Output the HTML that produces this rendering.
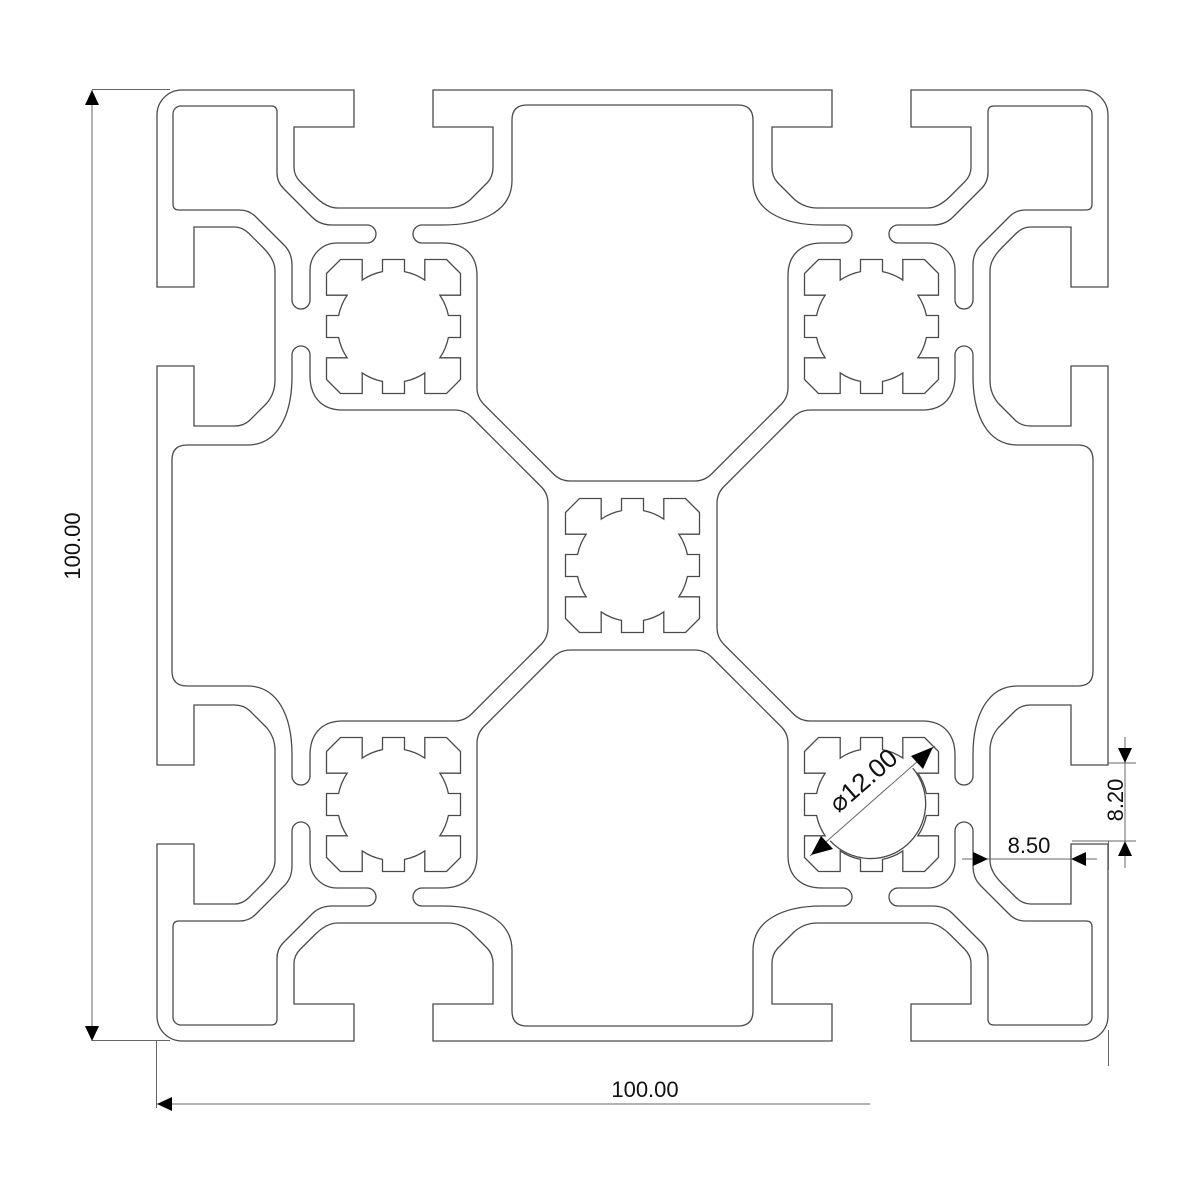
<!DOCTYPE html>
<html><head><meta charset="utf-8"><style>
html,body{margin:0;padding:0;background:#fff;}
svg{display:block;}
text{font-family:"Liberation Sans",sans-serif;fill:#111;}
</style></head><body>
<svg width="1200" height="1200" viewBox="0 0 1200 1200" xmlns="http://www.w3.org/2000/svg">
<defs>
<g id="e" fill="none" stroke="#4a4a4a" stroke-width="1.3">
<path d="M -468.2,-468.2 A25 25 0 0 1 -450.5,-475.5 L -278.5,-475.5 L -278.5,-438.5 L -338.5,-438.5 L -338.5,-398 Q -338.5,-390 -332,-383.5 L -318,-369.5 Q -306,-357.5 -295,-357.5 L -185,-357.5 Q -172,-357.5 -162,-366 L -145,-383 Q -139.5,-389 -139.5,-398 L -139.5,-438.5 L -199.5,-438.5 L -199.5,-475.5 L 0,-475.5"/>
<path d="M -457.2,-457.2 A8 8 0 0 1 -451.5,-459.5 L -361.5,-459.5 Q -355.5,-459.5 -355.5,-453.5 L -355.5,-393 Q -355.5,-383.5 -349,-377 L -320,-348 Q -312.5,-340.5 -300,-340.5 L -265.5,-340.5 A9 9 0 0 1 -265.5,-322.5 L -295.5,-322.5 A27 27 0 0 0 -314.6,-314.6"/>
<path d="M 0,-460.5 L -105.5,-460.5 Q -120.5,-460.5 -120.5,-445.5 L -120.5,-385 C -120.5,-355 -150,-340.5 -189.5,-340.5 L -210.5,-340.5 A9 9 0 0 0 -210.5,-322.5 L -189.5,-322.5 C -170,-322.5 -155.5,-312 -155.5,-290 L -155.5,-178 Q -155.5,-168 -148.5,-161 L -79,-91.5 Q -72,-84.5 -62,-84.5 L 0,-84.5"/>
</g>
<path id="h" fill="none" stroke="#4a4a4a" stroke-width="1.3" d="M -67,-53 L -53,-67 L -31.3,-67 L -31.3,-46.4 A56 56 0 0 1 -11,-54.9 L -11,-67 L 11,-67 L 11,-54.9 A56 56 0 0 1 31.3,-46.4 L 31.3,-67 L 53,-67 L 67,-53 L 67,-31.3 L 46.4,-31.3 A56 56 0 0 1 54.9,-11 L 67,-11 L 67,11 L 54.9,11 A56 56 0 0 1 46.4,31.3 L 67,31.3 L 67,53 L 53,67 L 31.3,67 L 31.3,46.4 A56 56 0 0 1 11,54.9 L 11,67 L -11,67 L -11,54.9 A56 56 0 0 1 -31.3,46.4 L -31.3,67 L -53,67 L -67,53 L -67,31.3 L -46.4,31.3 A56 56 0 0 1 -54.9,11 L -67,11 L -67,-11 L -54.9,-11 A56 56 0 0 1 -46.4,-31.3 L -67,-31.3 Z"/>
</defs>
<g transform="translate(632.5,565.5)">
<use href="#e"/>
<use href="#e" transform="scale(-1,1)"/>
<use href="#e" transform="scale(1,-1)"/>
<use href="#e" transform="scale(-1,-1)"/>
<use href="#e" transform="matrix(0,1,1,0,0,0)"/>
<use href="#e" transform="matrix(0,1,-1,0,0,0)"/>
<use href="#e" transform="matrix(0,-1,1,0,0,0)"/>
<use href="#e" transform="matrix(0,-1,-1,0,0,0)"/>
<use href="#h"/>
<use href="#h" transform="translate(-239,-239)"/>
<use href="#h" transform="translate(239,-239)"/>
<use href="#h" transform="translate(-239,239)"/>
<use href="#h" transform="translate(239,239)"/>
</g>
<path d="M 912.8,768.2 A55 55 0 0 1 830.2,840.8 Z" fill="#fff" stroke="none"/>
<path d="M 912.8,768.2 A55 55 0 0 1 830.2,840.8" fill="none" stroke="#4a4a4a" stroke-width="1.3"/>
<!-- dimensions -->
<g stroke="#666" stroke-width="1" fill="none">
<line x1="92" y1="89.5" x2="170" y2="89.5"/>
<line x1="92" y1="1040.5" x2="170" y2="1040.5"/>
<line x1="92" y1="90" x2="92" y2="1041"/>
<line x1="156.5" y1="1041" x2="156.5" y2="1108"/>
<line x1="157" y1="1104" x2="870" y2="1104"/>
<line x1="1108.5" y1="1030" x2="1108.5" y2="1066"/>
<line x1="1108.5" y1="841" x2="1108.5" y2="870"/>
<line x1="1108" y1="763" x2="1136" y2="763"/>
<line x1="1072" y1="841" x2="1136" y2="841"/>
<line x1="1125" y1="737" x2="1125" y2="868"/>
<line x1="962" y1="859" x2="1097" y2="859"/>
<line x1="810" y1="856" x2="935" y2="746"/>
</g>
<g fill="#000">
<polygon points="92,90 85,105 99,105"/>
<polygon points="92,1041 85,1026 99,1026"/>
<polygon points="157,1104 172,1097 172,1111"/>
<polygon points="1125,763 1118,748 1132,748"/>
<polygon points="1125,841 1118,856 1132,856"/>
<polygon points="988,859 973,852 973,866"/>
<polygon points="1071,859 1086,852 1086,866"/>
<polygon points="811,855 821,836 833,849"/>
<polygon points="933,747 911,756 923,769"/>
</g>
<text x="80" y="546" font-size="22" text-anchor="middle" transform="rotate(-90 80 546)">100.00</text>
<text x="645" y="1097" font-size="22" text-anchor="middle">100.00</text>
<text x="1029" y="853" font-size="22" text-anchor="middle">8.50</text>
<text x="1123" y="800" font-size="22" text-anchor="middle" transform="rotate(-90 1123 800)">8.20</text>
<text x="869" y="787" font-size="26" text-anchor="middle" transform="rotate(-41 869 787)">⌀12.00</text>
</svg>
</body></html>
